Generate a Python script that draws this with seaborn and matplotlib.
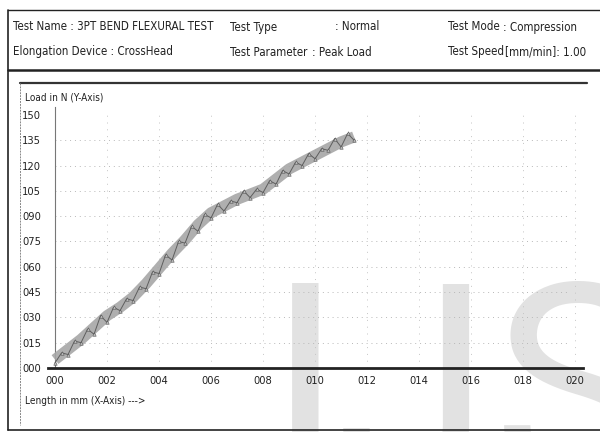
import matplotlib
matplotlib.use("Agg")
import matplotlib.pyplot as plt
from matplotlib import font_manager
from matplotlib.lines import Line2D
import seaborn as sns
import pandas as pd

# ---- data -------------------------------------------------------------
# smoothed load trace (mm, N)
length_mm = [0, 0.5, 1.0, 1.5, 2.0, 2.5, 3.0, 3.5, 4.0, 4.5, 5.0, 5.5,
             6.0, 6.5, 7.0, 7.5, 8.0, 8.5, 9.0, 9.5, 10.0, 10.5, 11.0, 11.5]
load_n = [5, 11, 17, 24, 31, 36, 42, 50, 59, 68, 76, 85,
          92, 96, 100, 103, 106, 112, 118, 122, 126, 130, 134, 137]

# raw sampled readings (scatter of the acquisition)
raw_len = [0, 0.25, 0.5, 0.75, 1.0, 1.25, 1.5, 1.75, 2.0, 2.25, 2.5, 2.75,
           3.0, 3.25, 3.5, 3.75, 4.0, 4.25, 4.5, 4.75, 5.0, 5.25, 5.5, 5.75,
           6.0, 6.25, 6.5, 6.75, 7.0, 7.25, 7.5, 7.75, 8.0, 8.25, 8.5, 8.75,
           9.0, 9.25, 9.5, 9.75, 10.0, 10.25, 10.5, 10.75, 11.0, 11.25, 11.5]
raw_load = [3, 9, 8, 16, 15, 23, 20, 31, 27, 36, 34, 41,
            40, 48, 47, 57, 56, 67, 64, 75, 74, 84, 81, 91,
            89, 97, 93, 99, 98, 105, 101, 106, 104, 111, 109, 117,
            115, 122, 120, 127, 124, 130, 129, 136, 131, 139, 135]

y_ticks = [0, 15, 30, 45, 60, 75, 90, 105, 120, 135, 150]
y_tick_labels = ["000", "015", "030", "045", "060", "075", "090",
                 "105", "120", "135", "150"]
x_ticks = [0, 2, 4, 6, 8, 10, 12, 14, 16, 18, 20]
x_tick_labels = ["000", "002", "004", "006", "008", "010", "012",
                 "014", "016", "018", "020"]

header_rows = [
    [("Test Name : 3PT BEND FLEXURAL TEST", 13), ("Test Type", 230),
     (": Normal", 335), ("Test Mode", 448), (": Compression", 503)],
    [("Elongation Device : CrossHead", 13), ("Test Parameter", 230),
     (": Peak Load", 312), ("Test Speed", 448), ("[mm/min]: 1.00", 505)],
]

# ---- style ------------------------------------------------------------
sns.set_theme(style="white")
fonts = font_manager.fontManager.ttflist
has_condensed = any(f.name == "DejaVu Sans" and f.stretch == "condensed"
                    for f in fonts)
if has_condensed:
    FONT, STRETCH = "DejaVu Sans", "condensed"
else:
    FONT, STRETCH = "Lato", "normal"
plt.rcParams["font.family"] = [FONT, "DejaVu Sans"]
plt.rcParams["font.stretch"] = STRETCH

W, H = 600, 432
fig = plt.figure(figsize=(W / 100, H / 100), dpi=100)
fig.patch.set_facecolor("white")


def fx(px):
    return px / W


def fy(py):
    return 1 - py / H


# watermark letters behind everything
for letter, xpx in [("I", 267), ("J", 336), ("S", 493)]:
    fig.text(fx(xpx), fy(273), letter, fontsize=202, color="#e2e2e2",
             family="Roboto", fontstretch="normal",
             ha="left", va="top", zorder=-5)

# ---- frame lines ------------------------------------------------------
def hline(y, x0, x1, lw=1.0, color="#222222", ls="-"):
    fig.add_artist(Line2D([fx(x0), fx(x1)], [fy(y), fy(y)], lw=lw,
                          color=color, ls=ls, zorder=3))


def vline(x, y0, y1, lw=1.0, color="#222222", ls="-"):
    fig.add_artist(Line2D([fx(x), fx(x)], [fy(y0), fy(y1)], lw=lw,
                          color=color, ls=ls, zorder=3))


hline(10, 8, 600, lw=1.0)
hline(70, 8, 600, lw=1.8)
vline(8, 10, 430, lw=1.2)
hline(430, 8, 600, lw=1.2)
hline(83, 20, 587, lw=1.6, color="#333333")
vline(20, 83, 425, lw=0.7, color="#888888", ls=(0, (2, 1)))

for row, ypx in zip(header_rows, [27, 52]):
    for txt, xpx in row:
        fig.text(fx(xpx), fy(ypx), txt, fontsize=8.3, color="#222222",
                 ha="left", va="center")

fig.text(fx(25), fy(97), "Load in N (Y-Axis)", fontsize=7.2,
         color="#222222", ha="left", va="center")
fig.text(fx(25), fy(401), "Length in mm (X-Axis) --->", fontsize=7.2,
         color="#222222", ha="left", va="center")

# ---- plot -------------------------------------------------------------
ax = fig.add_axes([fx(48), fy(368), fx(583) - fx(48), fy(107) - fy(368)])
ax.set_facecolor("none")

smooth = pd.DataFrame({"Length": length_mm, "Load": load_n})
raw = pd.DataFrame({"Length": raw_len, "Load": raw_load})

sns.lineplot(data=smooth, x="Length", y="Load", ax=ax, color="#a6a6a6",
             lw=8, alpha=0.9, zorder=3, solid_capstyle="butt")
sns.lineplot(data=raw, x="Length", y="Load", ax=ax, color="#5e5e5e",
             lw=0.7, marker="^", markersize=2.5, markeredgewidth=0.4,
             markerfacecolor="#bcbcbc", markeredgecolor="#555555", zorder=4)

ax.set_xlim(-0.27, 20.3)
ax.set_ylim(0, 154.7)

for y in y_ticks[1:-1]:
    ax.plot([0, 19.8], [y, y], color="#b8b8b8", lw=0.7,
            ls=(0, (1, 4)), zorder=1)
for x in x_ticks[1:]:
    ax.plot([x, x], [0, 150], color="#c4c4c4", lw=0.7,
            ls=(0, (1, 6)), zorder=1)

ax.set_xticks(x_ticks)
ax.set_xticklabels(x_tick_labels)
ax.set_yticks(y_ticks)
ax.set_yticklabels(y_tick_labels)
ax.tick_params(axis="both", length=0, labelsize=8, colors="#222222")
ax.tick_params(axis="y", pad=10)
ax.tick_params(axis="x", pad=6)
ax.set_xlabel("")
ax.set_ylabel("")

for s in ["top", "right"]:
    ax.spines[s].set_visible(False)
ax.spines["left"].set_position(("data", 0))
ax.spines["left"].set_color("#777777")
ax.spines["left"].set_linewidth(0.8)
ax.spines["bottom"].set_color("#222222")
ax.spines["bottom"].set_linewidth(2.0)
ax.spines["bottom"].set_linestyle((0, (3, 1)))

fig.savefig("out.png", dpi=100, facecolor="white")
